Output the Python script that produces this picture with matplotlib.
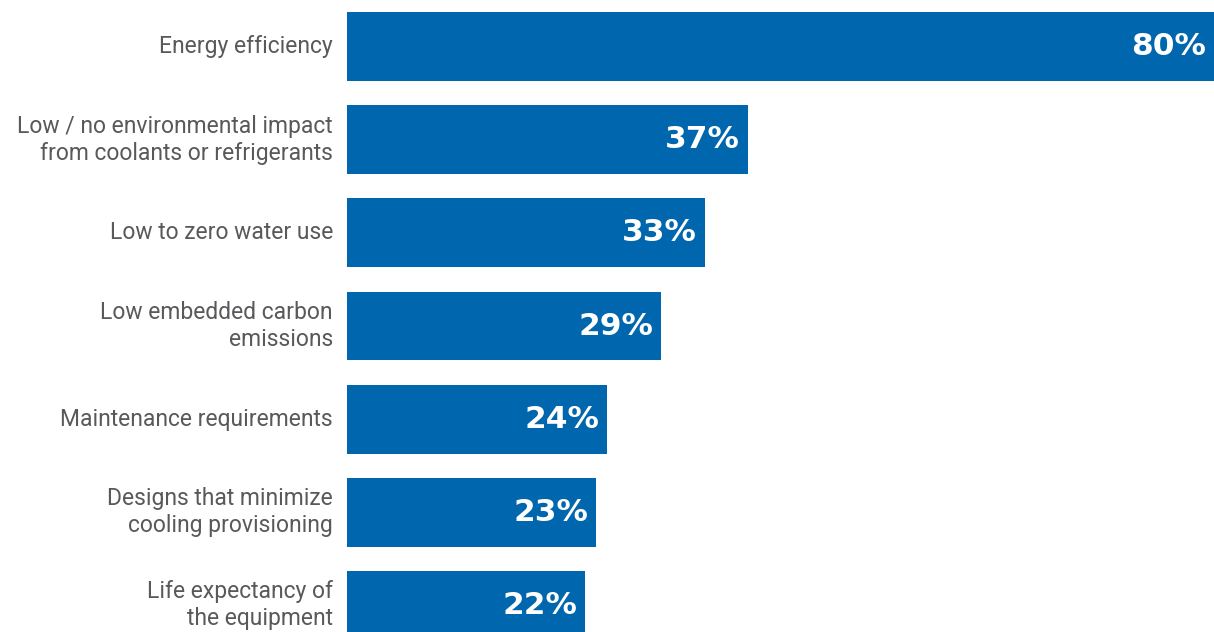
import matplotlib
matplotlib.use("Agg")
import matplotlib.pyplot as plt

categories = [
    "Energy efficiency",
    "Low / no environmental impact\nfrom coolants or refrigerants",
    "Low to zero water use",
    "Low embedded carbon\nemissions",
    "Maintenance requirements",
    "Designs that minimize\ncooling provisioning",
    "Life expectancy of\nthe equipment",
]
values = [80, 37, 33, 29, 24, 23, 22]

W, H = 1214, 632
fig = plt.figure(figsize=(W / 100, H / 100), dpi=100)
left = 347 / W
axw = (1214 - 347) / W
axh = 652 / H
ax = fig.add_axes([left, 1 - axh, axw, axh])

bar_color = "#0066AD"
ypos = list(range(len(values)))
ax.barh(ypos, values, height=0.74, color=bar_color)
ax.set_xlim(0, 80)
ax.set_ylim(len(values) - 0.5, -0.5)
for s in ax.spines.values():
    s.set_visible(False)
ax.set_xticks([])
ax.set_yticks([])

for y, v, c in zip(ypos, values, categories):
    ax.text(v - 0.75, y, f"{v}%", ha="right", va="center", color="white",
            fontsize=22.5, fontweight="bold", family="DejaVu Sans")
    ax.text(-1.3, y, c, ha="right", va="center", color="#58595b",
            fontsize=16.5, family="Roboto", linespacing=1.22)

fig.savefig("out.png", dpi=100)
